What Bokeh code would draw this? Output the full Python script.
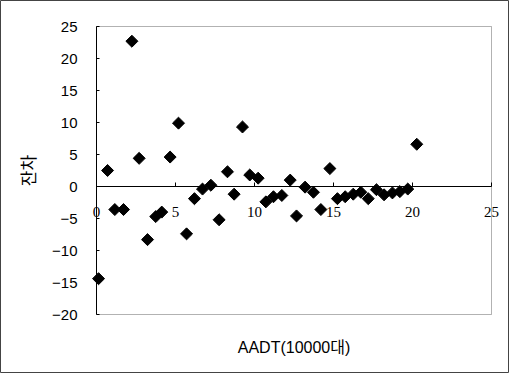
from bokeh.plotting import figure
from bokeh.embed import file_html
from bokeh.resources import INLINE
from bokeh.models import FixedTicker, Range1d, LabelSet, Label, ColumnDataSource, BoxAnnotation
import math

# Data
aadt = [0.13, 0.70, 1.16, 1.71, 2.24, 2.70, 3.23, 3.75, 4.13, 4.66, 5.19, 5.70, 6.20, 6.71,
        7.24, 7.76, 8.29, 8.71, 9.24, 9.70, 10.23, 10.72, 11.20, 11.73, 12.26, 12.66, 13.20,
        13.73, 14.20, 14.77, 15.25, 15.74, 16.25, 16.73, 17.20, 17.72, 18.20, 18.73, 19.20,
        19.70, 20.27]
residual = [-14.4, 2.5, -3.6, -3.6, 22.7, 4.4, -8.3, -4.7, -4.0, 4.6, 9.9, -7.4, -1.9, -0.4,
            0.2, -5.2, 2.3, -1.2, 9.3, 1.8, 1.3, -2.4, -1.6, -1.4, 1.0, -4.6, -0.1,
            -0.9, -3.6, 2.8, -1.9, -1.6, -1.2, -0.9, -1.9, -0.5, -1.3, -1.0, -0.8,
            -0.4, 6.6]

x_ticks = [0, 5, 10, 15, 20, 25]
x_tick_labels = ["0", "5", "10", "15", "20", "25"]
y_ticks = [-20, -15, -10, -5, 0, 5, 10, 15, 20, 25]
y_tick_labels = ["\u221220", "\u221215", "\u221210", "\u22125", "0", "5", "10", "15", "20", "25"]

x_title = "AADT(10000대)"
y_title = "잔차"

FONT = "Liberation Sans, Noto Sans CJK KR"

# canvas layout (pixels): plot box inside a full-canvas frame
W, H = 509, 373
BOX_L, BOX_R, BOX_T, BOX_B = 96, 491, 26, 314
x0, x1 = x_ticks[0], x_ticks[-1]
y0, y1 = y_ticks[0], y_ticks[-1]
sx = (BOX_R - BOX_L) / (x1 - x0)
sy = (BOX_B - BOX_T) / (y1 - y0)
xr = Range1d(x0 - BOX_L / sx, x1 + (W - BOX_R) / sx)
yr = Range1d(y0 - (H - BOX_B) / sy, y1 + BOX_T / sy)

p = figure(width=W, height=H, output_backend="svg", toolbar_location=None,
           x_range=xr, y_range=yr, min_border=0)

p.xgrid.visible = False
p.ygrid.visible = False
p.outline_line_color = "#444"
p.outline_line_width = 1
p.background_fill_color = "white"
p.border_fill_color = "white"

# plot box
p.add_layout(BoxAnnotation(left=x0, right=x1, bottom=y0, top=y1, fill_color=None,
                           line_color="black", line_width=1))

# x axis crossing at y = 0
xa = p.xaxis[0]
xa.fixed_location = 0
xa.bounds = (x0, x1)
xa.ticker = FixedTicker(ticks=x_ticks)
xa.minor_tick_line_color = None
xa.major_tick_in = 4
xa.major_tick_out = 0
xa.major_label_text_alpha = 0
xa.axis_line_color = "black"

tick_src = ColumnDataSource(dict(x=x_ticks, y=[0] * len(x_ticks), t=x_tick_labels))
p.add_layout(LabelSet(x="x", y="y", text="t", source=tick_src, y_offset=-20,
                      text_align="center", text_baseline="top", text_font=FONT,
                      text_font_size="15px", text_color="black"))

# y axis at x = 0
ya = p.yaxis[0]
ya.fixed_location = 0
ya.bounds = (y0, y1)
ya.ticker = FixedTicker(ticks=y_ticks)
ya.major_label_overrides = {t: l for t, l in zip(y_ticks, y_tick_labels)}
ya.minor_tick_line_color = None
ya.major_tick_in = 3
ya.major_tick_out = 0
ya.major_label_standoff = 19
ya.major_label_text_font = FONT
ya.major_label_text_font_size = "15px"
ya.major_label_text_color = "black"
ya.axis_label = y_title
ya.axis_label_text_font = FONT
ya.axis_label_text_font_size = "17px"
ya.axis_label_text_font_style = "normal"
ya.axis_label_text_color = "black"
ya.axis_label_standoff = 10
ya.axis_line_color = "black"

# x axis title below the box
p.add_layout(Label(x=(x0 + x1) / 2, y=y0, y_offset=-33, text=x_title, text_align="center",
                   text_baseline="middle", text_font=FONT, text_font_size="16px",
                   text_color="black"))

p.scatter(aadt, residual, marker="square", size=8.5, angle=math.pi / 4,
          fill_color="black", line_color="black")

open("out.html", "w").write(file_html(p, INLINE))
